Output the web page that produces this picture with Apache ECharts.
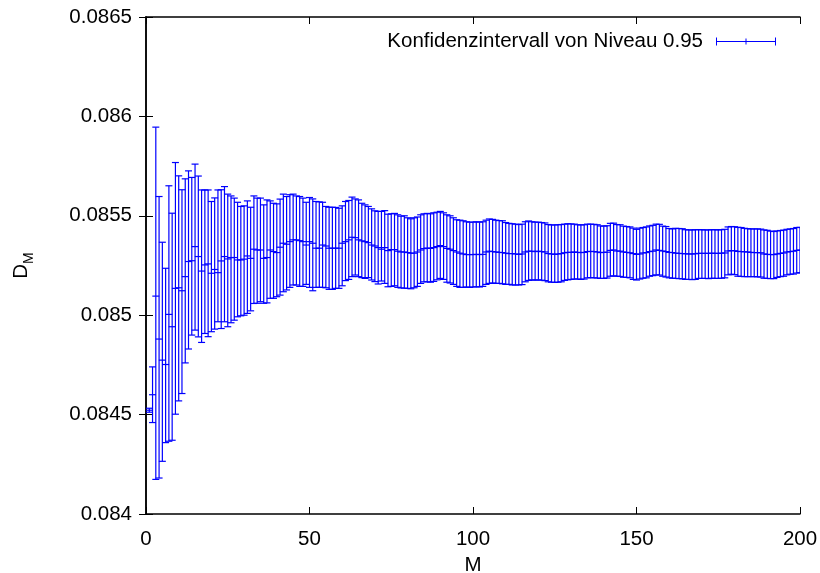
<!DOCTYPE html>
<html>
<head>
<meta charset="utf-8">
<script src="https://cdn.jsdelivr.net/npm/echarts@6/dist/echarts.min.js"></script>
<style>
  html, body { margin: 0; padding: 0; background: #fff; }
  #chart { width: 820px; height: 573px; }
</style>
</head>
<body>
<div id="chart"></div>
<script>
// Sample mean of D_M and the bounds of its 95% confidence interval, for M = 1..200
const meanValues = [
  0.084522, 0.084600, 0.085096, 0.084880, 0.084774, 0.084752, 0.085004, 0.084942, 0.085135, 0.085138,
  0.085123, 0.085194, 0.085270, 0.085274, 0.085345, 0.085295, 0.085222, 0.085253, 0.085258, 0.085211,
  0.085230, 0.085214, 0.085273, 0.085295, 0.085283, 0.085290, 0.085290, 0.085278, 0.085278, 0.085282,
  0.085298, 0.085286, 0.085332, 0.085328, 0.085328, 0.085286, 0.085290, 0.085328, 0.085320, 0.085315,
  0.085342, 0.085362, 0.085357, 0.085370, 0.085379, 0.085379, 0.085375, 0.085370, 0.085353, 0.085370,
  0.085362, 0.085337, 0.085337, 0.085353, 0.085348, 0.085337, 0.085337, 0.085337, 0.085337, 0.085362,
  0.085370, 0.085379, 0.085392, 0.085390, 0.085379, 0.085374, 0.085370, 0.085365, 0.085353, 0.085348,
  0.085340, 0.085332, 0.085340, 0.085325, 0.085330, 0.085330, 0.085322, 0.085318, 0.085318, 0.085315,
  0.085312, 0.085312, 0.085318, 0.085328, 0.085335, 0.085338, 0.085336, 0.085340, 0.085345, 0.085350,
  0.085345, 0.085336, 0.085332, 0.085325, 0.085318, 0.085312, 0.085308, 0.085305, 0.085305, 0.085305,
  0.085306, 0.085305, 0.085306, 0.085318, 0.085322, 0.085320, 0.085318, 0.085316, 0.085315, 0.085312,
  0.085310, 0.085310, 0.085308, 0.085306, 0.085308, 0.085318, 0.085322, 0.085322, 0.085320, 0.085322,
  0.085320, 0.085318, 0.085310, 0.085308, 0.085306, 0.085308, 0.085310, 0.085314, 0.085316, 0.085316,
  0.085318, 0.085316, 0.085315, 0.085316, 0.085320, 0.085321, 0.085320, 0.085318, 0.085315, 0.085316,
  0.085317, 0.085326, 0.085328, 0.085323, 0.085322, 0.085318, 0.085316, 0.085314, 0.085310, 0.085306,
  0.085308, 0.085313, 0.085315, 0.085320, 0.085322, 0.085328, 0.085326, 0.085323, 0.085320, 0.085316,
  0.085315, 0.085312, 0.085311, 0.085310, 0.085309, 0.085308, 0.085308, 0.085309, 0.085311, 0.085311,
  0.085311, 0.085311, 0.085312, 0.085311, 0.085311, 0.085312, 0.085313, 0.085323, 0.085325, 0.085324,
  0.085321, 0.085320, 0.085319, 0.085318, 0.085316, 0.085315, 0.085315, 0.085314, 0.085308, 0.085306,
  0.085305, 0.085305, 0.085308, 0.085311, 0.085313, 0.085318, 0.085320, 0.085322, 0.085326, 0.085328
];

const lowerValues = [
  0.084512, 0.084460, 0.084174, 0.084181, 0.084265, 0.084359, 0.084366, 0.084371, 0.084502, 0.084569,
  0.084606, 0.084760, 0.084830, 0.084900, 0.084925, 0.084891, 0.084863, 0.084908, 0.084892, 0.084917,
  0.084930, 0.084967, 0.084933, 0.084967, 0.084942, 0.084962, 0.084975, 0.084992, 0.084997, 0.085000,
  0.085009, 0.085022, 0.085059, 0.085060, 0.085068, 0.085060, 0.085062, 0.085085, 0.085085, 0.085093,
  0.085101, 0.085118, 0.085127, 0.085140, 0.085152, 0.085152, 0.085145, 0.085145, 0.085155, 0.085140,
  0.085123, 0.085140, 0.085140, 0.085140, 0.085138, 0.085130, 0.085130, 0.085135, 0.085135, 0.085148,
  0.085174, 0.085180, 0.085194, 0.085202, 0.085194, 0.085189, 0.085185, 0.085189, 0.085177, 0.085169,
  0.085157, 0.085172, 0.085160, 0.085143, 0.085145, 0.085148, 0.085140, 0.085137, 0.085136, 0.085135,
  0.085133, 0.085138, 0.085145, 0.085160, 0.085168, 0.085168, 0.085166, 0.085170, 0.085178, 0.085185,
  0.085180, 0.085166, 0.085162, 0.085155, 0.085145, 0.085140, 0.085140, 0.085142, 0.085140, 0.085142,
  0.085143, 0.085142, 0.085145, 0.085155, 0.085160, 0.085162, 0.085160, 0.085160, 0.085158, 0.085155,
  0.085155, 0.085152, 0.085152, 0.085152, 0.085154, 0.085168, 0.085175, 0.085178, 0.085176, 0.085178,
  0.085176, 0.085174, 0.085168, 0.085166, 0.085165, 0.085166, 0.085168, 0.085175, 0.085178, 0.085180,
  0.085182, 0.085182, 0.085180, 0.085182, 0.085188, 0.085189, 0.085188, 0.085187, 0.085185, 0.085185,
  0.085187, 0.085196, 0.085198, 0.085196, 0.085195, 0.085191, 0.085190, 0.085188, 0.085180, 0.085177,
  0.085182, 0.085186, 0.085188, 0.085196, 0.085199, 0.085203, 0.085202, 0.085196, 0.085192, 0.085188,
  0.085186, 0.085185, 0.085184, 0.085183, 0.085180, 0.085180, 0.085179, 0.085180, 0.085185, 0.085185,
  0.085185, 0.085184, 0.085186, 0.085185, 0.085185, 0.085186, 0.085188, 0.085203, 0.085206, 0.085204,
  0.085196, 0.085195, 0.085194, 0.085194, 0.085194, 0.085194, 0.085193, 0.085192, 0.085186, 0.085185,
  0.085184, 0.085184, 0.085190, 0.085194, 0.085196, 0.085203, 0.085206, 0.085207, 0.085212, 0.085214
];

const upperValues = [
  0.084532, 0.084740, 0.085946, 0.085597, 0.085367, 0.085236, 0.085651, 0.085513, 0.085768, 0.085701,
  0.085631, 0.085686, 0.085726, 0.085693, 0.085760, 0.085700, 0.085630, 0.085630, 0.085630, 0.085572,
  0.085590, 0.085630, 0.085631, 0.085647, 0.085609, 0.085600, 0.085589, 0.085568, 0.085547, 0.085550,
  0.085575, 0.085543, 0.085600, 0.085589, 0.085589, 0.085555, 0.085580, 0.085575, 0.085563, 0.085560,
  0.085584, 0.085609, 0.085597, 0.085606, 0.085609, 0.085600, 0.085597, 0.085589, 0.085568, 0.085592,
  0.085585, 0.085572, 0.085570, 0.085568, 0.085547, 0.085543, 0.085543, 0.085542, 0.085538, 0.085550,
  0.085572, 0.085577, 0.085594, 0.085585, 0.085580, 0.085563, 0.085555, 0.085547, 0.085535, 0.085525,
  0.085522, 0.085522, 0.085526, 0.085508, 0.085510, 0.085512, 0.085505, 0.085498, 0.085500, 0.085490,
  0.085485, 0.085490, 0.085494, 0.085505, 0.085510, 0.085512, 0.085510, 0.085515, 0.085518, 0.085522,
  0.085515, 0.085505, 0.085500, 0.085490, 0.085480, 0.085478, 0.085475, 0.085470, 0.085468, 0.085468,
  0.085470, 0.085468, 0.085470, 0.085478, 0.085484, 0.085482, 0.085478, 0.085476, 0.085475, 0.085466,
  0.085462, 0.085460, 0.085458, 0.085456, 0.085458, 0.085470, 0.085474, 0.085470, 0.085468, 0.085468,
  0.085466, 0.085464, 0.085456, 0.085454, 0.085454, 0.085455, 0.085456, 0.085458, 0.085460, 0.085459,
  0.085458, 0.085455, 0.085454, 0.085455, 0.085458, 0.085458, 0.085457, 0.085455, 0.085449, 0.085448,
  0.085450, 0.085462, 0.085463, 0.085456, 0.085455, 0.085448, 0.085446, 0.085444, 0.085438, 0.085432,
  0.085438, 0.085441, 0.085444, 0.085449, 0.085452, 0.085458, 0.085457, 0.085448, 0.085446, 0.085436,
  0.085434, 0.085437, 0.085436, 0.085435, 0.085430, 0.085429, 0.085429, 0.085430, 0.085430, 0.085430,
  0.085429, 0.085429, 0.085430, 0.085430, 0.085429, 0.085430, 0.085432, 0.085444, 0.085446, 0.085445,
  0.085442, 0.085441, 0.085437, 0.085435, 0.085434, 0.085434, 0.085434, 0.085433, 0.085429, 0.085427,
  0.085423, 0.085421, 0.085424, 0.085426, 0.085428, 0.085432, 0.085434, 0.085436, 0.085441, 0.085442
];

// Axis ticks
const xTicks = [0, 50, 100, 150, 200];
const yTicks = [0.084, 0.0845, 0.085, 0.0855, 0.086, 0.0865];

const seriesName = 'Konfidenzintervall von Niveau 0.95';
const barColor = '#0000ff';
const FONT = '"Liberation Sans", Arial, Helvetica, sans-serif';
const FS = 20.5;

// Each item: [M, lower, upper, mean]
const errorData = meanValues.map((m, i) => [i + 1, lowerValues[i], upperValues[i], m]);

function renderErrorBar(params, api) {
  const x = api.value(0);
  const pLo = api.coord([x, api.value(1)]);
  const pHi = api.coord([x, api.value(2)]);
  const pMid = api.coord([x, api.value(3)]);
  const cap = 3.5;
  const px = pLo[0];
  const style = { stroke: barColor, lineWidth: 1.2, fill: null };
  return {
    type: 'group',
    children: [
      { type: 'line', shape: { x1: px, y1: pLo[1], x2: px, y2: pHi[1] }, style },
      { type: 'line', shape: { x1: px - cap, y1: pLo[1], x2: px + cap, y2: pLo[1] }, style },
      { type: 'line', shape: { x1: px - cap, y1: pHi[1], x2: px + cap, y2: pHi[1] }, style },
      { type: 'line', shape: { x1: px - cap, y1: pMid[1], x2: px + cap, y2: pMid[1] }, style }
    ]
  };
}

const fmtY = v => String(parseFloat(Number(v).toFixed(5)));

const chart = echarts.init(document.getElementById('chart'), null, { renderer: 'canvas' });

const commonAxisLine = { show: true, lineStyle: { color: '#000', width: 1.5 } };
const commonTick = { show: true, inside: true, length: 7, lineStyle: { color: '#000', width: 1 } };

chart.setOption({
  animation: false,
  backgroundColor: '#fff',
  textStyle: { fontFamily: FONT },
  grid: {
    left: 146, right: 20, top: 17, bottom: 59,
    containLabel: false,
    outerBoundsMode: 'none'
  },
  legend: {
    show: true,
    right: 39,
    top: 26,
    align: 'right',
    itemWidth: 60,
    itemHeight: 8,
    icon: 'path://M0,3.5h60v1h-60z M0,0h1v8h-1z M59,0h1v8h-1z M29.5,1h1v6h-1z',
    itemStyle: { color: barColor },
    textStyle: { color: '#000', fontSize: FS, fontFamily: FONT, padding: [0, 8, 0, 0] },
    data: [{ name: seriesName }]
  },
  xAxis: [
    {
      type: 'value', position: 'bottom',
      min: xTicks[0], max: xTicks[xTicks.length - 1], interval: xTicks[1] - xTicks[0],
      name: 'M', nameLocation: 'middle', nameGap: 40,
      nameTextStyle: { color: '#000', fontSize: FS, fontFamily: FONT },
      axisLine: commonAxisLine,
      axisTick: commonTick,
      axisLabel: { color: '#000', fontSize: FS, fontFamily: FONT, margin: 15 },
      splitLine: { show: false }
    },
    {
      type: 'value', position: 'top',
      min: xTicks[0], max: xTicks[xTicks.length - 1], interval: xTicks[1] - xTicks[0],
      axisLine: commonAxisLine,
      axisTick: commonTick,
      axisLabel: { show: false },
      splitLine: { show: false }
    }
  ],
  yAxis: [
    {
      type: 'value', position: 'left',
      min: yTicks[0], max: yTicks[yTicks.length - 1], interval: 0.0005,
      name: '{d|D}{s|M}', nameLocation: 'middle', nameGap: 114, nameRotate: 90,
      nameTextStyle: {
        color: '#000', fontFamily: FONT,
        rich: {
          d: { fontSize: FS, color: '#000', fontFamily: FONT, verticalAlign: 'bottom', lineHeight: 26 },
          s: { fontSize: 14, color: '#000', fontFamily: FONT, verticalAlign: 'bottom', lineHeight: 26, padding: [0, 0, -4, 0] }
        }
      },
      axisLine: commonAxisLine,
      axisTick: commonTick,
      axisLabel: { color: '#000', fontSize: FS, fontFamily: FONT, margin: 14, formatter: fmtY },
      splitLine: { show: false }
    },
    {
      type: 'value', position: 'right',
      min: yTicks[0], max: yTicks[yTicks.length - 1], interval: 0.0005,
      axisLine: commonAxisLine,
      axisTick: commonTick,
      axisLabel: { show: false },
      splitLine: { show: false }
    }
  ],
  series: [
    {
      name: seriesName,
      type: 'custom',
      xAxisIndex: 0,
      yAxisIndex: 0,
      renderItem: renderErrorBar,
      encode: { x: 0, y: [1, 2, 3] },
      itemStyle: { color: barColor },
      clip: true,
      data: errorData
    }
  ]
});
</script>
</body>
</html>
